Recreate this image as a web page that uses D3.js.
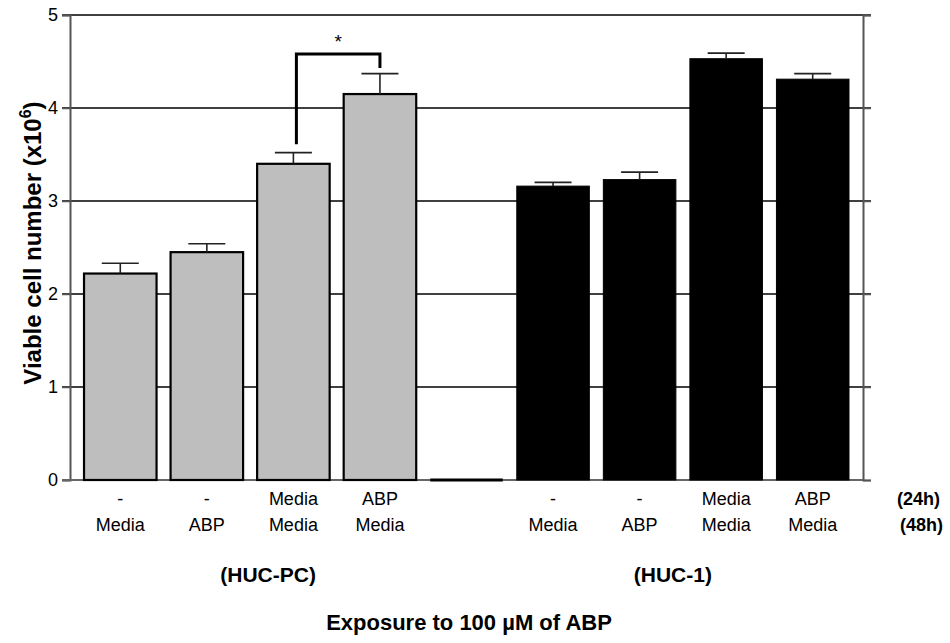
<!DOCTYPE html>
<html>
<head>
<meta charset="utf-8">
<script src="https://cdn.jsdelivr.net/npm/d3@7"></script>
<style>
  html, body { margin: 0; padding: 0; background: #fff; }
  svg { display: block; font-family: "Liberation Sans", Arial, sans-serif; }
</style>
</head>
<body>
<svg id="chart" width="950" height="643"></svg>
<script>
// Treatment sequence under each bar: first 24 h, then 48 h
const row24h = ["-", "-", "Media", "ABP"];
const row48h = ["Media", "ABP", "Media", "Media"];

// Viable cell number (x10^6), mean and upper error
const hucPcMean = [2.22, 2.45, 3.40, 4.15];
const hucPcErr  = [0.11, 0.09, 0.12, 0.22];
const huc1Mean  = [3.16, 3.23, 4.53, 4.31];
const huc1Err   = [0.04, 0.08, 0.06, 0.06];

const groupNames = ["(HUC-PC)", "(HUC-1)"];
const yTicks = [0, 1, 2, 3, 4, 5];

// Significance bracket between HUC-PC "Media/Media" and "ABP/Media"
const sigPair = [2, 3];
const sigTop = 4.58;
const sigLegBottom = [3.61, 4.43];
const sigLabel = "*";

(function () {
  // Nine slots: four HUC-PC bars, an empty spacer, four HUC-1 bars
  const bars = [];
  hucPcMean.forEach((m, i) => bars.push({ slot: i, mean: m, err: hucPcErr[i], group: 0, idx: i }));
  huc1Mean.forEach((m, i) => bars.push({ slot: i + 5, mean: m, err: huc1Err[i], group: 1, idx: i }));
  const spacerSlot = 4;

  const svg = d3.select("#chart");
  const plotLeft = 70, plotRight = 863, plotTop = 15, plotBottom = 480;

  const x = d3.scaleBand().domain(d3.range(9)).range([plotLeft, plotRight])
    .paddingInner(0.162).paddingOuter(0.162);
  const y = d3.scaleLinear().domain([0, 5]).range([plotBottom, plotTop]);

  // Horizontal grid lines with ticks on both sides
  const grid = svg.append("g");
  yTicks.filter(t => t > 0).forEach(t => {
    grid.append("line")
      .attr("x1", plotLeft - 8).attr("x2", plotRight + 8)
      .attr("y1", y(t)).attr("y2", y(t))
      .attr("stroke", "#000").attr("stroke-width", 1.5);
  });

  // Left axis
  const yAxis = d3.axisLeft(y).tickValues(yTicks).tickSize(8).tickPadding(4).tickFormat(d3.format("d"));
  const gy = svg.append("g").attr("transform", `translate(${plotLeft},0)`).call(yAxis);
  gy.select(".domain").attr("stroke", "#555").attr("stroke-width", 2);
  gy.selectAll(".tick line").attr("stroke", "#555").attr("stroke-width", 1.5);
  gy.selectAll(".tick text").attr("font-size", 18).attr("fill", "#000")
    .attr("font-family", "'Liberation Sans', Arial, sans-serif");

  // Right axis line
  const yRight = d3.axisRight(y).tickValues(yTicks).tickSize(8).tickFormat("");
  const gr = svg.append("g").attr("transform", `translate(${plotRight},0)`).call(yRight);
  gr.select(".domain").attr("stroke", "#555").attr("stroke-width", 2);
  gr.selectAll(".tick line").attr("stroke", "#555").attr("stroke-width", 1.5);

  // Baseline
  svg.append("line")
    .attr("x1", plotLeft - 8).attr("x2", plotRight)
    .attr("y1", y(0)).attr("y2", y(0))
    .attr("stroke", "#666").attr("stroke-width", 2);

  // Bars
  svg.append("g").selectAll("rect").data(bars).join("rect")
    .attr("x", d => x(d.slot))
    .attr("y", d => y(d.mean))
    .attr("width", x.bandwidth())
    .attr("height", d => y(0) - y(d.mean))
    .attr("fill", d => d.group === 0 ? "#bebebe" : "#000")
    .attr("stroke", "#000")
    .attr("stroke-width", d => d.group === 0 ? 2.2 : 1);

  // Empty spacer slot drawn as a flat bar on the baseline
  svg.append("line")
    .attr("x1", x(spacerSlot)).attr("x2", x(spacerSlot) + x.bandwidth())
    .attr("y1", y(0)).attr("y2", y(0))
    .attr("stroke", "#000").attr("stroke-width", 3);

  // Upper error bars
  const capW = 37;
  const eb = svg.append("g").attr("stroke", "#222").attr("stroke-width", 1.6);
  bars.forEach(d => {
    const cx = x(d.slot) + x.bandwidth() / 2;
    eb.append("line").attr("x1", cx).attr("x2", cx)
      .attr("y1", y(d.mean)).attr("y2", y(d.mean + d.err));
    eb.append("line").attr("x1", cx - capW / 2).attr("x2", cx + capW / 2)
      .attr("y1", y(d.mean + d.err)).attr("y2", y(d.mean + d.err));
  });

  // Significance bracket
  const bx0 = x(sigPair[0]) + x.bandwidth() / 2 + 3;
  const bx1 = x(sigPair[1]) + x.bandwidth() / 2;
  svg.append("path")
    .attr("d", `M${bx0},${y(sigLegBottom[0])}V${y(sigTop)}H${bx1}V${y(sigLegBottom[1])}`)
    .attr("fill", "none").attr("stroke", "#000").attr("stroke-width", 3)
    .attr("stroke-linejoin", "miter");
  svg.append("text")
    .attr("x", (bx0 + bx1) / 2).attr("y", y(sigTop) - 6)
    .attr("text-anchor", "middle").attr("font-size", 19)
    .text(sigLabel);

  // Treatment labels under each bar
  const lab = svg.append("g").attr("font-size", 18).attr("text-anchor", "middle");
  bars.forEach(d => {
    const cx = x(d.slot) + x.bandwidth() / 2;
    lab.append("text").attr("x", cx).attr("y", 505).text(row24h[d.idx]);
    lab.append("text").attr("x", cx).attr("y", 531).text(row48h[d.idx]);
  });

  // Time point markers
  svg.append("text").attr("x", 940).attr("y", 505).attr("text-anchor", "end")
    .attr("font-size", 18).attr("font-weight", "bold").text("(24h)");
  svg.append("text").attr("x", 943).attr("y", 531).attr("text-anchor", "end")
    .attr("font-size", 18).attr("font-weight", "bold").text("(48h)");

  // Cell line group labels, nudged from the centre of each group of bars
  const groupNudge = [18, -10];
  groupNames.forEach((g, gi) => {
    const slots = bars.filter(b => b.group === gi).map(b => b.slot);
    const cx = (x(slots[0]) + x(slots[slots.length - 1]) + x.bandwidth()) / 2 + groupNudge[gi];
    svg.append("text").attr("x", cx).attr("y", 582)
      .attr("text-anchor", "middle").attr("font-size", 21).attr("font-weight", "bold")
      .text(g);
  });

  // X axis title
  svg.append("text").attr("x", 469).attr("y", 630)
    .attr("text-anchor", "middle").attr("font-size", 22).attr("font-weight", "bold")
    .text("Exposure to 100 \u00b5M of ABP");

  // Y axis title with superscript exponent
  const yt = svg.append("text")
    .attr("transform", `translate(41,243) rotate(-90)`)
    .attr("text-anchor", "middle").attr("font-size", 24).attr("font-weight", "bold");
  yt.append("tspan").text("Viable cell number (x10");
  yt.append("tspan").attr("font-size", 16).attr("dy", -10).text("6");
  yt.append("tspan").attr("dy", 10).text(")");
})();
</script>
</body>
</html>
